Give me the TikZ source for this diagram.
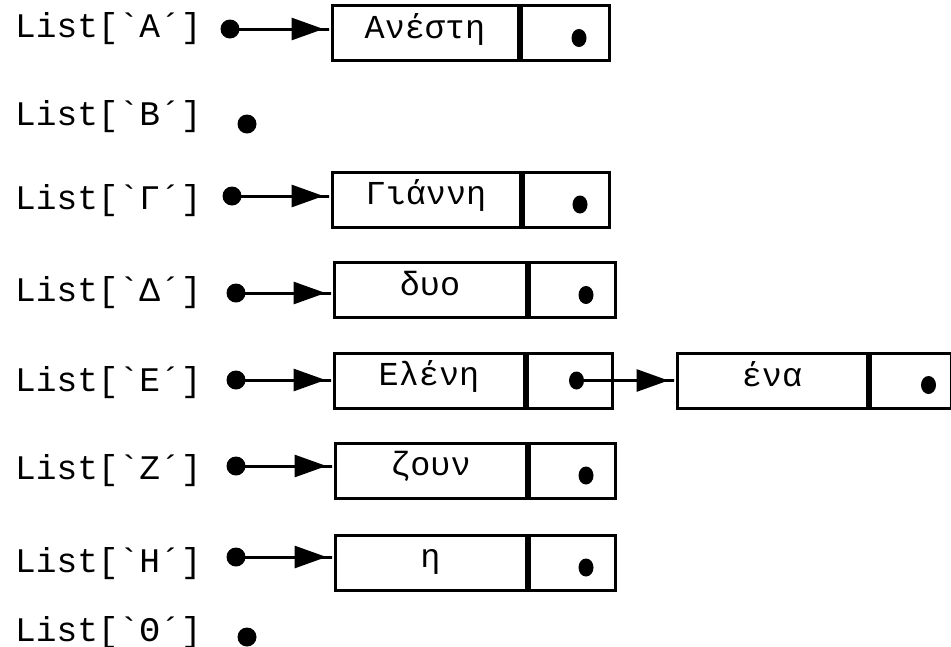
\documentclass[tikz,border=0pt]{standalone}
\usepackage{fontspec}
\newfontfamily\lmono{Liberation Mono}
\usetikzlibrary{arrows.meta,calc,shapes.geometric}

\tikzset{
  lbl/.style={font=\lmono\fontsize{34.5}{34.5}\selectfont, anchor=base west, inner sep=0pt},
  datacell/.style={draw, line width=3pt, rectangle, inner sep=0pt,
    font=\lmono\fontsize{33.5}{33.5}\selectfont, minimum height=55pt,
    text height=18pt, text depth=8pt},
  ptrcell/.style={draw, line width=3pt, rectangle, inner sep=0pt, anchor=west,
    minimum height=55pt},
  startdot/.style={fill, circle, inner sep=0pt, minimum size=19pt},
  celldot/.style={fill, ellipse, inner sep=0pt, minimum width=15pt, minimum height=18pt},
  ptr/.style={line width=3pt, shorten <=-2pt,
    -{Triangle[length=32pt,width=22pt,sep=0pt]Rectangle[length=7pt,width=3pt,sep=0pt]}},
}

\begin{document}
\begin{tikzpicture}[x=1pt,y=-1pt]
  \useasboundingbox (0,0) rectangle (951,646);

  % table of list heads
  \node[lbl] (lA) at (15,37)  {List[\char"60 Α\char"B4]};
  \node[lbl] (lB) at (15,125) {List[\char"60 Β\char"B4]};
  \node[lbl] (lG) at (15,209) {List[\char"60 Γ\char"B4]};
  \node[lbl] (lD) at (15,301) {List[\char"60 Δ\char"B4]};
  \node[lbl] (lE) at (15,391) {List[\char"60 Ε\char"B4]};
  \node[lbl] (lZ) at (15,479) {List[\char"60 Ζ\char"B4]};
  \node[lbl] (lH) at (15,572) {List[\char"60 Η\char"B4]};
  \node[lbl] (lT) at (15,641) {List[\char"60 Θ\char"B4]};

  % head pointers
  \node[startdot] (sA) at (230,29)  {};
  \node[startdot] (sB) at (247,124) {};
  \node[startdot] (sG) at (232,196) {};
  \node[startdot] (sD) at (236,293) {};
  \node[startdot] (sE) at (236,380) {};
  \node[startdot] (sZ) at (236,466) {};
  \node[startdot] (sH) at (236,557) {};
  \node[startdot] (sT) at (247,637) {};

  % list nodes: data cell + pointer cell
  \node[datacell, minimum width=186pt] (nA) at (425,33) {Ανέστη};
  \node[ptrcell, minimum width=88pt] (pA) at (nA.east) {};
  \node[celldot] (dA) at ([xshift=14pt,yshift=-5pt]pA.center) {};

  \node[datacell, minimum width=188pt] (nG) at (426,199.5) {Γιάννη};
  \node[ptrcell, minimum width=86pt] (pG) at (nG.east) {};
  \node[celldot] (dG) at ([xshift=14pt,yshift=-5pt]pG.center) {};

  \node[datacell, minimum width=192pt] (nD) at (430,290) {δυο};
  \node[ptrcell, minimum width=86pt] (pD) at (nD.east) {};
  \node[celldot] (dD) at ([xshift=14pt,yshift=-5pt]pD.center) {};

  \node[datacell, minimum width=190pt] (nE) at (429,380.5) {Ελένη};
  \node[ptrcell, minimum width=85pt] (pE) at (nE.east) {};
  \node[celldot] (dE) at ([xshift=7pt]pE.center) {};

  \node[datacell, minimum width=190pt] (nE2) at (772,381) {ένα};
  \node[ptrcell, minimum width=81pt] (pE2) at (nE2.east) {};
  \node[celldot] (dE2) at ([xshift=18pt,yshift=-4pt]pE2.center) {};

  \node[datacell, minimum width=191pt] (nZ) at (430.5,470.5) {ζουν};
  \node[ptrcell, minimum width=86pt] (pZ) at (nZ.east) {};
  \node[celldot] (dZ) at ([xshift=14pt,yshift=-5pt]pZ.center) {};

  \node[datacell, minimum width=191pt] (nH) at (430.5,562.5) {η};
  \node[ptrcell, minimum width=86pt] (pH) at (nH.east) {};
  \node[celldot] (dH) at ([xshift=14pt,yshift=-5pt]pH.center) {};

  % links
  \draw[ptr] (sA.center) -- (sA.center -| nA.west);
  \draw[ptr] (sG.center) -- (sG.center -| nG.west);
  \draw[ptr] (sD.center) -- (sD.center -| nD.west);
  \draw[ptr] (sE.center) -- (sE.center -| nE.west);
  \draw[ptr] (sZ.center) -- (sZ.center -| nZ.west);
  \draw[ptr] (sH.center) -- (sH.center -| nH.west);
  \draw[ptr] (dE.center) -- (dE.center -| nE2.west);
\end{tikzpicture}
\end{document}
